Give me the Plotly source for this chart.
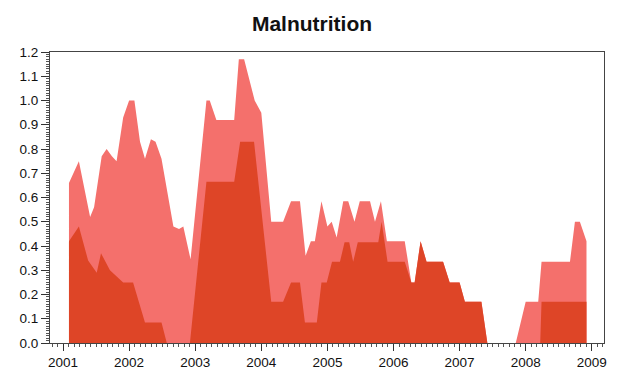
import plotly.graph_objects as go

# Light (upper) series
light_years = [2001.09, 2001.24, 2001.41, 2001.47, 2001.585, 2001.66, 2001.74, 2001.81, 2001.91,
               2002.00, 2002.08, 2002.165, 2002.24, 2002.33, 2002.40, 2002.49, 2002.67, 2002.755,
               2002.82, 2002.93, 2003.17, 2003.22, 2003.32, 2003.59, 2003.66, 2003.74, 2003.90,
               2004.00, 2004.15, 2004.33, 2004.45, 2004.585, 2004.67, 2004.75, 2004.81, 2004.91,
               2005.00, 2005.065, 2005.14, 2005.24, 2005.315, 2005.41, 2005.49, 2005.645, 2005.72,
               2005.81, 2005.90, 2006.17, 2006.27, 2006.32, 2006.41, 2006.50, 2006.75, 2006.85,
               2007.00, 2007.08, 2007.33, 2007.42, 2007.85, 2008.00, 2008.19, 2008.24, 2008.67,
               2008.745, 2008.82, 2008.92]
light_vals = [0.66, 0.75, 0.52, 0.56, 0.77, 0.80, 0.77, 0.75, 0.93,
              1.00, 1.00, 0.83, 0.76, 0.84, 0.83, 0.76, 0.48, 0.47,
              0.48, 0.345, 1.00, 1.00, 0.92, 0.92, 1.17, 1.17, 1.00,
              0.95, 0.50, 0.50, 0.585, 0.585, 0.36, 0.42, 0.42, 0.585,
              0.48, 0.50, 0.435, 0.585, 0.585, 0.50, 0.585, 0.585, 0.50,
              0.585, 0.42, 0.42, 0.25, 0.25, 0.42, 0.335, 0.335, 0.25,
              0.25, 0.17, 0.17, 0.0, 0.0, 0.17, 0.17, 0.335, 0.335,
              0.50, 0.50, 0.42]

# Dark (lower) series
dark_years = [2001.09, 2001.24, 2001.38, 2001.51, 2001.575, 2001.71, 2001.91, 2002.06, 2002.24,
              2002.49, 2002.57, 2002.92, 2003.17, 2003.59, 2003.68, 2003.89, 2004.15, 2004.33,
              2004.45, 2004.585, 2004.66, 2004.84, 2004.91, 2004.99, 2005.07, 2005.19, 2005.26,
              2005.33, 2005.39, 2005.46, 2005.77, 2005.82, 2005.91, 2006.17, 2006.27, 2006.32,
              2006.41, 2006.50, 2006.75, 2006.85, 2007.00, 2007.08, 2007.33, 2007.42, 2008.22,
              2008.24, 2008.92]
dark_vals = [0.42, 0.48, 0.34, 0.29, 0.37, 0.30, 0.25, 0.25, 0.085,
             0.085, 0.0, 0.0, 0.665, 0.665, 0.83, 0.83, 0.17, 0.17,
             0.25, 0.25, 0.085, 0.085, 0.25, 0.25, 0.335, 0.335, 0.415,
             0.415, 0.335, 0.415, 0.415, 0.50, 0.335, 0.335, 0.25, 0.25,
             0.42, 0.335, 0.335, 0.25, 0.25, 0.17, 0.17, 0.0, 0.0,
             0.17, 0.17]

x_ticks = [2001, 2002, 2003, 2004, 2005, 2006, 2007, 2008, 2009]

LIGHT = "#F4706C"
DARK = "#DE4527"

fig = go.Figure()
fig.add_trace(go.Scatter(x=light_years, y=light_vals, mode="lines", fill="tozeroy",
                         line=dict(width=0, color=LIGHT), fillcolor=LIGHT, showlegend=False,
                         hoverinfo="skip"))
fig.add_trace(go.Scatter(x=dark_years, y=dark_vals, mode="lines", fill="tozeroy",
                         line=dict(width=0, color=DARK), fillcolor=DARK, showlegend=False,
                         hoverinfo="skip"))

# The page body has an 8px default margin, so the figure is sized to fit the window.
fig.update_layout(
    width=610, height=364,
    margin=dict(l=42, r=14, t=44, b=29, autoexpand=False),
    paper_bgcolor="white", plot_bgcolor="white",
    font=dict(family="Liberation Sans, Arial, sans-serif", size=13.5, color="#111"),
    title=dict(text="<b>Malnutrition</b>", x=304 / 610, xanchor="center", y=1 - 16 / 364,
               yanchor="middle", yref="container", font=dict(size=21, color="#111")),
)
fig.update_xaxes(
    range=[2000.803, 2009.185], tickvals=x_ticks, ticktext=[str(v) for v in x_ticks],
    automargin=False,
    showgrid=False, zeroline=False, showline=True, linecolor="#444", linewidth=1, mirror=True,
    ticks="outside", ticklen=7, tickcolor="#333",
    minor=dict(dtick=1 / 12, tick0=2001, ticks="outside", ticklen=3, tickcolor="#555", showgrid=False),
)
fig.update_yaxes(
    range=[0, 1.2], dtick=0.1, tick0=0, tickformat=".1f",
    automargin=False,
    showgrid=False, zeroline=False, showline=True, linecolor="#444", linewidth=1, mirror=True,
    ticks="outside", ticklen=8, tickcolor="#333",
    minor=dict(dtick=0.01, tick0=0, ticks="outside", ticklen=3, tickcolor="#555", showgrid=False),
)

fig.write_html("out.html")
